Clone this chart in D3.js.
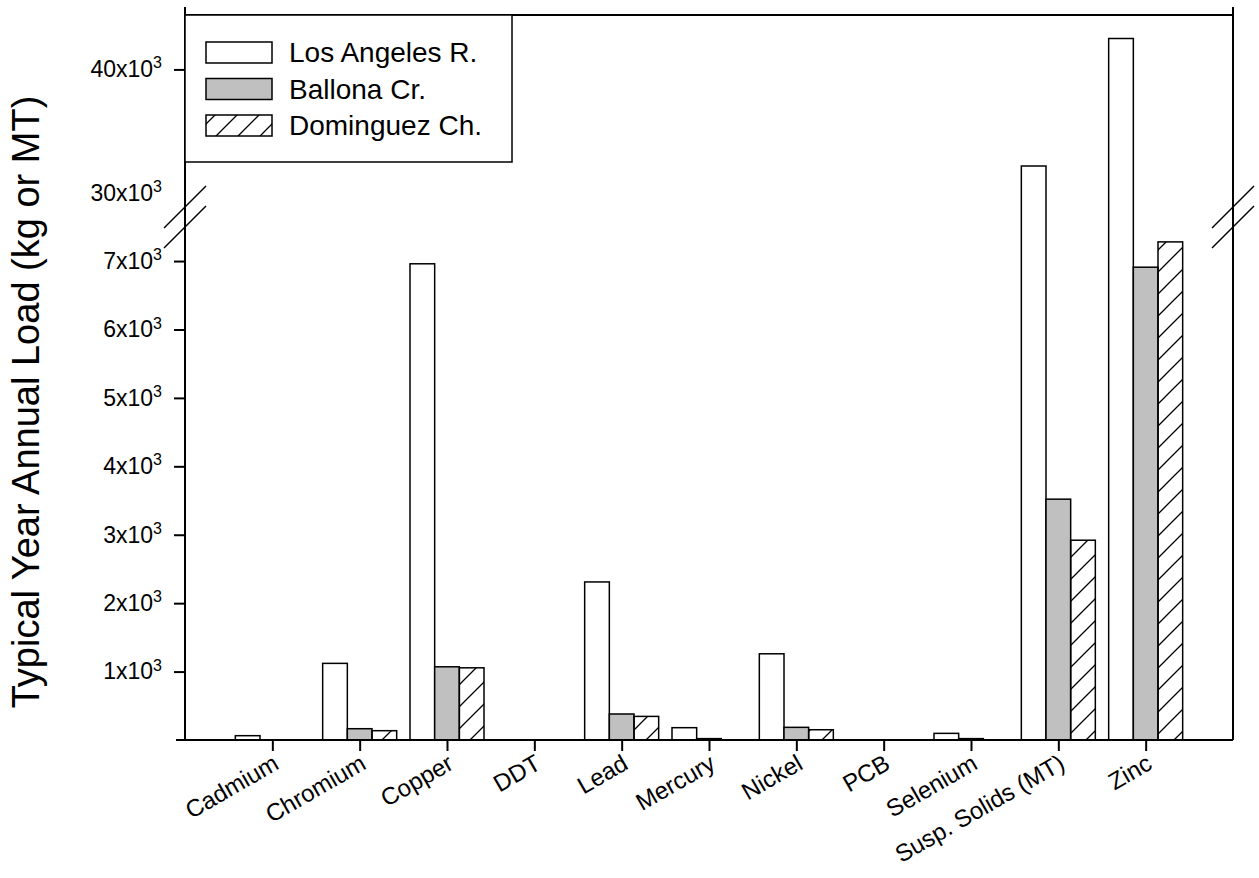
<!DOCTYPE html>
<html>
<head>
<meta charset="utf-8">
<script src="https://cdn.jsdelivr.net/npm/d3@7"></script>
<style>
  body { margin: 0; background: #fff; }
  text { font-family: "Liberation Sans", Arial, sans-serif; fill: #000; }
</style>
</head>
<body>
<script>
// categories and the three river series (kg, or metric tons for solids)
var categories = ["Cadmium", "Chromium", "Copper", "DDT", "Lead", "Mercury", "Nickel", "PCB", "Selenium", "Susp. Solids (MT)", "Zinc"];
var seriesNames = ["Los Angeles R.", "Ballona Cr.", "Dominguez Ch."];
var losAngeles = [63, 1120, 6960, 0, 2310, 180, 1260, 0, 97, 32200, 42500];
var ballona = [0, 165, 1070, 0, 380, 20, 185, 0, 20, 3520, 6910];
var dominguez = [0, 136, 1055, 0, 345, 0, 150, 0, 0, 2920, 7280];

// tick labels on the two parts of the broken axis
var lowTicks = [1000, 2000, 3000, 4000, 5000, 6000, 7000];
var lowTickLabels = ["1x10", "2x10", "3x10", "4x10", "5x10", "6x10", "7x10"];
var highTicks = [30000, 40000];
var highTickLabels = ["30x10", "40x10"];

var width = 1259, height = 878;
var plotLeft = 185, plotRight = 1233, plotTop = 15, plotBottom = 740;
var breakLow = 207, breakHigh = 227;

var svg = d3.select("body").append("svg")
  .attr("width", width)
  .attr("height", height);

// hatch for Dominguez
var defs = svg.append("defs");
defs.append("pattern")
  .attr("id", "hatch")
  .attr("patternUnits", "userSpaceOnUse")
  .attr("width", 22).attr("height", 22)
  .append("path")
    .attr("d", "M0,22 L22,0 M-3,3 L3,-3 M19,25 L25,19")
    .attr("stroke", "#000")
    .attr("stroke-width", 1.3);

var fills = ["#fff", "#c0c0c0", "url(#hatch)"];

var x = d3.scalePoint().domain(categories).range([plotLeft, plotRight]).padding(1);
var xSub = d3.scaleBand().domain(seriesNames).range([-37, 37]);

// lower and upper segment of the y axis
var yLow = d3.scaleLinear().domain([0, 7790]).range([plotBottom, breakLow]);
var yHigh = d3.scaleLinear().domain([27260, 44400]).range([breakHigh, plotTop]);

var rows = [];
categories.forEach(function(c, i) {
  [losAngeles, ballona, dominguez].forEach(function(arr, j) {
    rows.push({cat: c, series: seriesNames[j], idx: j, value: arr[i]});
  });
});
rows = rows.filter(function(d) { return d.value > 0; });

var bars = svg.append("g");
rows.forEach(function(d) {
  var x0 = x(d.cat) + xSub(d.series);
  var x1 = x0 + xSub.bandwidth();
  if (d.value <= yLow.domain()[1]) {
    bars.append("rect")
      .attr("x", x0).attr("y", yLow(d.value))
      .attr("width", x1 - x0).attr("height", plotBottom - yLow(d.value))
      .attr("fill", fills[d.idx])
      .attr("stroke", "#000").attr("stroke-width", 1.5);
  } else {
    // broken bar: two pieces with open ends at the break
    var yt = yHigh(d.value);
    bars.append("rect").attr("x", x0).attr("y", breakLow).attr("width", x1 - x0)
      .attr("height", plotBottom - breakLow).attr("fill", fills[d.idx]);
    bars.append("rect").attr("x", x0).attr("y", yt).attr("width", x1 - x0)
      .attr("height", breakHigh - yt).attr("fill", fills[d.idx]);
    bars.append("path")
      .attr("d", "M" + x0 + "," + breakLow + "L" + x0 + "," + plotBottom + "L" + x1 + "," + plotBottom + "L" + x1 + "," + breakLow +
                 "M" + x0 + "," + breakHigh + "L" + x0 + "," + yt + "L" + x1 + "," + yt + "L" + x1 + "," + breakHigh)
      .attr("fill", "none").attr("stroke", "#000").attr("stroke-width", 1.5);
  }
});

// frame
var frame = svg.append("g").attr("stroke", "#000").attr("stroke-width", 2).attr("fill", "none");
frame.append("line").attr("x1", plotLeft).attr("x2", plotLeft).attr("y1", 7).attr("y2", plotBottom);
frame.append("line").attr("x1", plotRight).attr("x2", plotRight).attr("y1", 7).attr("y2", plotBottom);
frame.append("line").attr("x1", plotLeft).attr("x2", plotRight).attr("y1", plotTop).attr("y2", plotTop);
frame.append("line").attr("x1", plotLeft - 9).attr("x2", plotRight).attr("y1", plotBottom).attr("y2", plotBottom);

// break marks on both vertical axes
[plotLeft, plotRight].forEach(function(ax) {
  [breakLow, breakHigh].forEach(function(yy) {
    svg.append("line")
      .attr("x1", ax - 21).attr("y1", yy + 21)
      .attr("x2", ax + 21).attr("y2", yy - 21)
      .attr("stroke", "#000").attr("stroke-width", 1.5);
  });
});

function supLabels(sel, labels) {
  sel.selectAll(".tick text").each(function(d, i) {
    var t = d3.select(this).text("");
    t.append("tspan").text(labels[i]);
    t.append("tspan").attr("dy", "-0.55em").attr("font-size", "16px").text("3");
  });
}

var gLow = svg.append("g").attr("transform", "translate(" + plotLeft + ",0)")
  .call(d3.axisLeft(yLow).tickValues(lowTicks).tickSize(11).tickPadding(12));
gLow.select(".domain").remove();
supLabels(gLow, lowTickLabels);

var gHigh = svg.append("g").attr("transform", "translate(" + plotLeft + ",0)")
  .call(d3.axisLeft(yHigh).tickValues(highTicks).tickSize(11).tickPadding(12));
gHigh.select(".domain").remove();
gHigh.selectAll(".tick line").filter(function(d) { return d === 30000; }).remove();
supLabels(gHigh, highTickLabels);

svg.selectAll(".tick line").attr("stroke-width", 2);
svg.selectAll(".tick text").attr("font-size", "23px").attr("font-family", "Liberation Sans, Arial, sans-serif");

// x axis
var gx = svg.append("g").attr("transform", "translate(0," + plotBottom + ")")
  .call(d3.axisBottom(x).tickSize(11).tickFormat(""));
gx.select(".domain").remove();
gx.selectAll(".tick line").attr("stroke-width", 2);

svg.append("g").selectAll("text")
  .data(categories)
  .enter()
  .append("text")
    .attr("transform", function(d) { return "translate(" + (x(d) + 8) + "," + (plotBottom + 28) + ")rotate(-30)"; })
    .attr("text-anchor", "end")
    .attr("font-size", "24px")
    .text(function(d) { return d; });

// y title
svg.append("text")
  .attr("transform", "translate(39," + 402 + ")rotate(-90)")
  .attr("text-anchor", "middle")
  .attr("font-size", "38px")
  .text("Typical Year Annual Load (kg or MT)");

// legend
var legend = svg.append("g");
legend.append("rect")
  .attr("x", plotLeft).attr("y", plotTop).attr("width", 327).attr("height", 147)
  .attr("fill", "#fff").attr("stroke", "#000").attr("stroke-width", 1.5);
seriesNames.forEach(function(name, i) {
  var yy = 42 + i * 36.5;
  legend.append("rect")
    .attr("x", 206).attr("y", yy).attr("width", 66).attr("height", 21)
    .attr("fill", fills[i]).attr("stroke", "#000").attr("stroke-width", 1.5);
  legend.append("text")
    .attr("x", 289).attr("y", yy + 20)
    .attr("font-size", "28px")
    .text(name);
});
</script>
</body>
</html>
